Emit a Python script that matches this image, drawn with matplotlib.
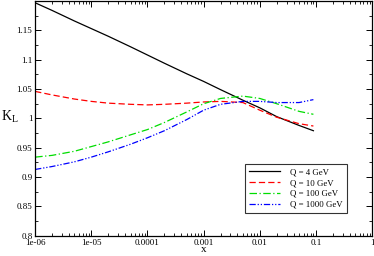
import matplotlib
matplotlib.use("Agg")
import matplotlib.pyplot as plt
import numpy as np
from matplotlib.ticker import LogLocator, FixedLocator, NullFormatter

plt.rcParams['font.family'] = ['Liberation Serif', 'DejaVu Serif']

# data
x_vals = [1e-6, 2e-6, 5e-6, 1e-5, 2e-5, 5e-5, 1e-4, 2e-4, 5e-4,
          1e-3, 2e-3, 5e-3, 1e-2, 2e-2, 5e-2, 9e-2]
k_q4    = [1.197, 1.184, 1.166, 1.153, 1.140, 1.122, 1.108, 1.094, 1.076,
           1.063, 1.049, 1.031, 1.018, 1.003, 0.988, 0.979]
k_q10   = [1.046, 1.040, 1.033, 1.029, 1.026, 1.024, 1.023, 1.024, 1.026,
           1.028, 1.029, 1.027, 1.014, 1.002, 0.991, 0.987]
k_q100  = [0.934, 0.937, 0.944, 0.952, 0.960, 0.972, 0.981, 0.993, 1.011,
           1.025, 1.034, 1.038, 1.034, 1.025, 1.012, 1.007]
k_q1000 = [0.913, 0.918, 0.926, 0.934, 0.943, 0.956, 0.967, 0.979, 0.998,
           1.014, 1.024, 1.029, 1.029, 1.027, 1.027, 1.032]

labels = ["Q = 4 GeV", "Q = 10 GeV", "Q = 100 GeV", "Q = 1000 GeV"]
colors = ["black", "red", "#00dd00", "blue"]
styles = ["-", (0, (5, 2.5)), (0, (6, 2, 1, 2)), (0, (5, 1.5, 1, 1.5, 1, 1.5))]

fig = plt.figure(figsize=(3.74, 2.56), dpi=100)
ax = fig.add_axes([0.094, 0.079, 0.901, 0.917])

for y, lab, c, ls in zip([k_q4, k_q10, k_q100, k_q1000], labels, colors, styles):
    ax.plot(x_vals, y, color=c, linestyle=ls, linewidth=0.9, label=lab)

ax.set_xscale('log')
ax.set_xlim(1e-6, 1)
ax.set_ylim(0.8, 1.2)

xt = [1e-6, 1e-5, 1e-4, 1e-3, 1e-2, 1e-1, 1]
ax.set_xticks(xt)
ax.set_xticklabels(["1e-06", "1e-05", "0.0001", "0.001", "0.01", "0.1", "1"])
ax.xaxis.set_minor_locator(LogLocator(base=10, subs=np.arange(2, 10)))
ax.xaxis.set_minor_formatter(NullFormatter())

yt = [0.8, 0.85, 0.9, 0.95, 1.0, 1.05, 1.1, 1.15]
ax.set_yticks(yt)
ax.set_yticklabels(["0.8", "0.85", "0.9", "0.95", "1", "1.05", "1.1", "1.15"])
ax.yaxis.set_minor_locator(FixedLocator(np.arange(0.825, 1.2, 0.05)))

ax.tick_params(which='both', direction='in', top=True, right=True, labelsize=6.5, pad=2)
ax.tick_params(which='major', length=4, width=0.7)
ax.tick_params(which='minor', length=2, width=0.6)
for s in ax.spines.values():
    s.set_linewidth(0.9)

ax.set_xlabel("x", fontsize=8)
ax.xaxis.set_label_coords(0.5, -0.04)
ax.set_ylabel("K$_\\mathregular{L}$", fontsize=10, rotation=0)
ax.yaxis.set_label_coords(-0.075, 0.47)

leg = ax.legend(loc='lower right', bbox_to_anchor=(0.937, 0.078), fontsize=6.3,
                frameon=True, fancybox=False, edgecolor='black', handlelength=3.5,
                borderpad=0.5, labelspacing=0.3, handletextpad=1.1)
leg.get_frame().set_linewidth(0.8)

fig.savefig("out.png", dpi=100)
